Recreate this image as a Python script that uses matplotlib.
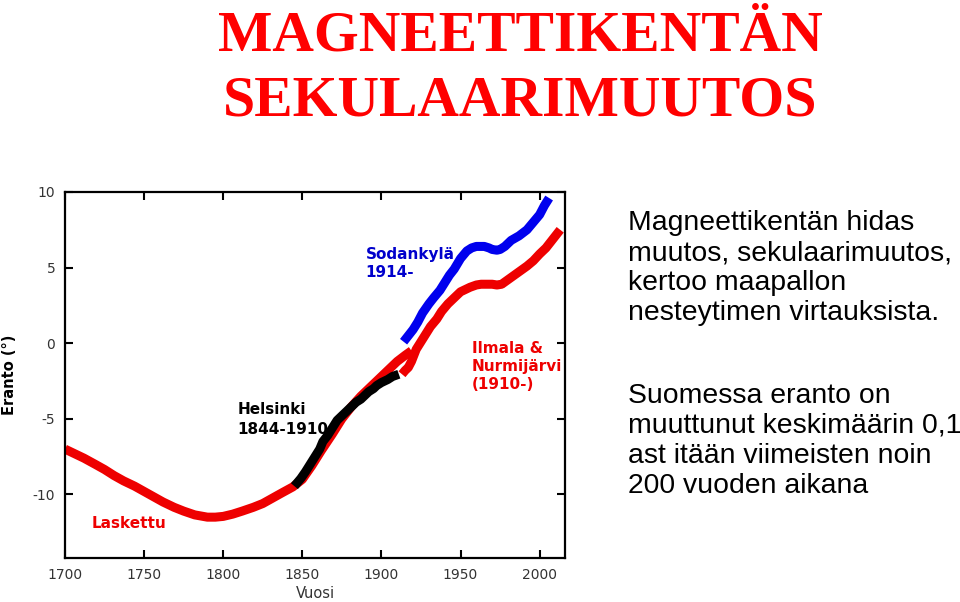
import matplotlib
matplotlib.use('Agg')
import matplotlib.pyplot as plt

# calculated (Laskettu) declination, 1700-1919
calc_years = [1700, 1706, 1712, 1719, 1725, 1731, 1737, 1744, 1750, 1756, 1762, 1769, 1775,
              1782, 1790, 1795, 1800, 1806, 1812, 1819, 1825, 1831, 1837, 1844, 1850,
              1856, 1862, 1869, 1875, 1881, 1887, 1894, 1900, 1905, 1910, 1915, 1919]
calc_vals = [-7.0, -7.3, -7.6, -8.0, -8.35, -8.75, -9.1, -9.45, -9.8, -10.15, -10.5, -10.85,
             -11.1, -11.35, -11.5, -11.5, -11.45, -11.3, -11.1, -10.85, -10.6, -10.25,
             -9.9, -9.5, -9.0, -8.1, -7.1, -6.0, -5.0, -4.2, -3.5, -2.8, -2.2, -1.7,
             -1.2, -0.8, -0.5]

# Helsinki observations 1844-1910
hel_years = [1845, 1849, 1852, 1855, 1858, 1861, 1863, 1866, 1869, 1872, 1875, 1878, 1881,
             1884, 1887, 1890, 1892, 1895, 1897, 1900, 1904, 1907, 1911]
hel_vals = [-9.45, -8.95, -8.5, -8.0, -7.5, -7.0, -6.5, -6.1, -5.6, -5.1, -4.8, -4.5, -4.2,
            -3.9, -3.7, -3.4, -3.2, -3.0, -2.8, -2.6, -2.4, -2.2, -2.05]

# Ilmala & Nurmijarvi 1910-
ilm_years = [1913, 1915, 1917, 1919, 1922, 1925, 1928, 1931, 1935, 1938, 1942, 1946, 1950,
             1953, 1956, 1960, 1963, 1967, 1970, 1973, 1976, 1980, 1984, 1988, 1992,
             1996, 2000, 2004, 2007, 2010, 2013]
ilm_vals = [-2.05, -1.8, -1.6, -1.2, -0.4, 0.1, 0.6, 1.1, 1.6, 2.1, 2.6, 3.0, 3.4, 3.55,
            3.7, 3.85, 3.9, 3.9, 3.9, 3.85, 3.9, 4.2, 4.5, 4.8, 5.1, 5.45, 5.9, 6.3, 6.7,
            7.1, 7.5]

# Sodankyla 1914-
sod_years = [1914, 1917, 1920, 1923, 1926, 1930, 1933, 1937, 1940, 1943, 1946, 1950, 1954,
             1957, 1960, 1965, 1968, 1970, 1973, 1975, 1978, 1982, 1987, 1992, 1996,
             2000, 2003, 2006]
sod_vals = [0.1, 0.5, 0.9, 1.4, 2.0, 2.6, 3.0, 3.5, 4.0, 4.5, 4.9, 5.6, 6.1, 6.3, 6.4, 6.4,
            6.3, 6.2, 6.15, 6.2, 6.4, 6.8, 7.1, 7.5, 8.0, 8.5, 9.1, 9.6]

fig = plt.figure(figsize=(9.6, 6.02), dpi=100)

fig.text(0.542, 0.94, 'MAGNEETTIKENTÄN', family='Liberation Serif', weight='bold',
         fontsize=41.5, color='#ff0000', ha='center', va='center')
fig.text(0.542, 0.832, 'SEKULAARIMUUTOS', family='Liberation Serif', weight='bold',
         fontsize=41.5, color='#ff0000', ha='center', va='center')

ax = fig.add_axes([0.0677, 0.0731, 0.5208, 0.608])
red = '#ee0000'
ax.plot(calc_years, calc_vals, color=red, lw=6.5, solid_capstyle='butt')
ax.plot(ilm_years, ilm_vals, color=red, lw=6.5, solid_capstyle='butt')
ax.plot(hel_years, hel_vals, color='black', lw=6.5, solid_capstyle='butt')
ax.plot(sod_years, sod_vals, color='#0000ee', lw=6.5, solid_capstyle='butt')

ax.set_xlim(1700, 2016)
ax.set_ylim(-14.2, 10)
ax.set_xticks([1700, 1750, 1800, 1850, 1900, 1950, 2000])
ax.set_yticks([-10, -5, 0, 5, 10])
ax.set_yticklabels(['-10', '-5', '0', '5', '10'])
ax.tick_params(direction='in', top=True, right=True, length=6, width=1.5,
               labelsize=10, labelcolor='#333333', pad=7)
for s in ax.spines.values():
    s.set_linewidth(1.6)
ax.set_xlabel('Vuosi', fontsize=10.5, color='#333333', labelpad=3)
ax.set_ylabel('Eranto (°)', fontsize=10.5, weight='bold')
ax.yaxis.set_label_coords(-0.095, 0.5)

ax.text(1717, -12.2, 'Laskettu', color=red, weight='semibold', fontsize=11)
ax.text(1809, -6.0, 'Helsinki\n1844-1910', color='black', weight='semibold', fontsize=11,
        linespacing=1.45)
ax.text(1890, 4.4, 'Sodankylä\n1914-', color='#0000cc', weight='semibold', fontsize=11,
        linespacing=1.25)
ax.text(1957, -3.0, 'Ilmala &\nNurmijärvi\n(1910-)', color=red, weight='semibold',
        fontsize=11, linespacing=1.25)

fig.text(0.654, 0.554, 'Magneettikentän hidas\nmuutos, sekulaarimuutos,\nkertoo maapallon\n'
         'nesteytimen virtauksista.', family='Liberation Sans', fontsize=20.4,
         va='center', ha='left', linespacing=1.2)
fig.text(0.654, 0.268, 'Suomessa eranto on\nmuuttunut keskimäärin 0,1\n'
         'ast itään viimeisten noin\n200 vuoden aikana', family='Liberation Sans',
         fontsize=20.4, va='center', ha='left', linespacing=1.2)

fig.savefig('out.png', dpi=100)
